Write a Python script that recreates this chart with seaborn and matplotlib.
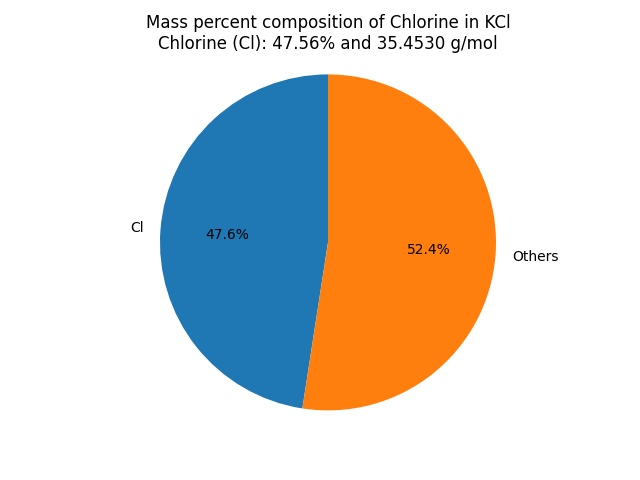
import matplotlib
matplotlib.use("Agg")
import matplotlib.pyplot as plt
import seaborn as sns

# Data
labels = ['Cl', 'Others']
percents = [47.56, 52.44]
element_name = 'Chlorine'
symbol = 'Cl'
compound = 'KCl'
molar_mass = 35.4530

colors = sns.color_palette('tab10', 2)

fig, ax = plt.subplots(figsize=(6.4, 4.8), dpi=100)
ax.pie(percents, labels=labels, colors=colors, autopct='%1.1f%%', startangle=90)
ax.axis('equal')
ax.set_title(f'Mass percent composition of {element_name} in {compound}\n'
             f'{element_name} ({symbol}): {percents[0]:.2f}% and {molar_mass:.4f} g/mol')

fig.savefig('out.png', dpi=100)
